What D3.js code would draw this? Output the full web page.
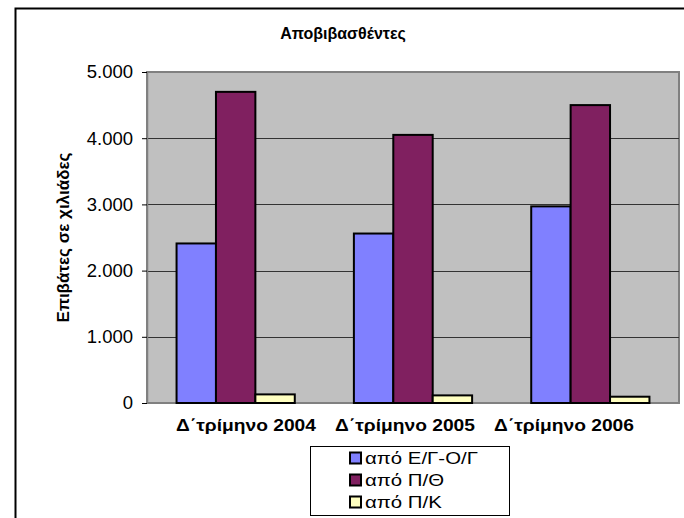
<!DOCTYPE html>
<html>
<head>
<meta charset="utf-8">
<script src="https://cdn.jsdelivr.net/npm/d3@7"></script>
<style>
body { margin: 0; background: #fff; }
svg { display: block; font-family: Arial, "Liberation Sans", sans-serif; }
</style>
</head>
<body>
<div id="chart"></div>
<script>
// data (thousands of passengers)
var quarters = ["Δ΄τρίμηνο 2004", "Δ΄τρίμηνο 2005", "Δ΄τρίμηνο 2006"];
var seriesNames = ["από Ε/Γ-Ο/Γ", "από Π/Θ", "από Π/Κ"];
var egog = [2410, 2560, 2970];
var pth = [4700, 4050, 4500];
var pk = [130, 115, 95];
var yTicks = [0, 1000, 2000, 3000, 4000, 5000];
var colors = ["#8080ff", "#802060", "#ffffc0"];

var W = 684, H = 518;
var margin = {top: 72, left: 147, right: 5, bottom: 115};
var width = W - margin.left - margin.right;
var height = H - margin.top - margin.bottom;

var svg = d3.select("#chart").append("svg").attr("width", W).attr("height", H);

// outer chart frame
svg.append("rect")
.attr("x", 15.5).attr("y", 8.5)
.attr("width", 700).attr("height", 540)
.attr("fill", "none").attr("stroke", "#000").attr("stroke-width", 2);

svg.append("text")
.attr("x", 343).attr("y", 39)
.attr("text-anchor", "middle")
.style("font-size", "16px").style("font-weight", "bold")
.text("Αποβιβασθέντες");

var g = svg.append("g").attr("transform", "translate(" + margin.left + "," + margin.top + ")");

var x0 = d3.scaleBand().domain(quarters).range([0, width]).paddingInner(0).paddingOuter(0);
// gap width 150% of a bar => 3 bars + 1.5 bar of gap per group
var x1 = d3.scaleBand().domain(seriesNames).range([x0.bandwidth() * 0.75 / 4.5, x0.bandwidth() - x0.bandwidth() * 0.75 / 4.5]).padding(0);
var y = d3.scaleLinear().domain([0, 5000]).range([height, 0]);
// category labels sit a bit tighter than the bar groups in the original
var xl = d3.scaleBand().domain(quarters).range([19.5, 496.5]);

g.append("rect")
.attr("width", width).attr("height", height)
.attr("fill", "#c0c0c0").attr("stroke", "#808080").attr("stroke-width", 2);

g.selectAll(".grid")
.data(yTicks.slice(1, -1))
.enter().append("line")
.attr("class", "grid")
.attr("x1", 0).attr("x2", width)
.attr("y1", function(d) { return Math.round(y(d)) + 0.5; })
.attr("y2", function(d) { return Math.round(y(d)) + 0.5; })
.attr("stroke", "#333").attr("stroke-width", 1);

var series = [egog, pth, pk];
var rows = [];
quarters.forEach(function(q, i) {
  seriesNames.forEach(function(s, j) {
    rows.push({q: q, s: s, v: series[j][i], c: colors[j]});
  });
});

g.selectAll(".bar")
.data(rows)
.enter().append("rect")
.attr("class", "bar")
.attr("x", function(d) { return x0(d.q) + x1(d.s); })
.attr("y", function(d) { return y(d.v); })
.attr("width", x1.bandwidth())
.attr("height", function(d) { return height - y(d.v); })
.attr("fill", function(d) { return d.c; })
.attr("stroke", "#000").attr("stroke-width", 2);

var yAxis = g.append("g")
.call(d3.axisLeft(y).tickValues(yTicks).tickSize(5).tickSizeOuter(0)
  .tickFormat(function(d) { return d === 0 ? "0" : d3.format(",")(d).replace(/,/g, "."); }));
yAxis.select(".domain").attr("stroke", "#808080").attr("stroke-width", 1.5);
yAxis.selectAll(".tick line").attr("stroke", "#000");
yAxis.selectAll("text").style("font-size", "18.5px").attr("fill", "#000").attr("x", -14);

var xAxis = g.append("g")
.attr("transform", "translate(0," + height + ")")
.call(d3.axisBottom(xl).tickSize(0).tickSizeOuter(0));
xAxis.select(".domain").remove();
xAxis.selectAll("text")
.style("font-size", "16px").style("font-weight", "bold")
.attr("fill", "#000")
.attr("y", 0).attr("dy", 28)
.attr("transform", "scale(1.2,1)");

svg.append("text")
.attr("transform", "translate(69," + (margin.top + height / 2) + ") rotate(-90)")
.attr("text-anchor", "middle")
.style("font-size", "17px").style("font-weight", "bold")
.text("Επιβάτες σε χιλιάδες");

// legend
var lg = svg.append("g").attr("transform", "translate(310,446)");
lg.append("rect")
.attr("x", 0.5).attr("y", 0.5).attr("width", 199).attr("height", 69)
.attr("fill", "#fff").attr("stroke", "#000").attr("stroke-width", 1);
var item = lg.selectAll(".item")
.data(seriesNames)
.enter().append("g")
.attr("class", "item")
.attr("transform", function(d, i) { return "translate(0," + (12 + i * 22) + ")"; });
item.append("rect")
.attr("x", 40).attr("y", -5.5).attr("width", 11).attr("height", 11)
.attr("fill", function(d, i) { return colors[i]; })
.attr("stroke", "#000").attr("stroke-width", 2);
item.append("text")
.attr("transform", "translate(55,0) scale(1.2,1)")
.attr("dy", "0.36em")
.style("font-size", "17px")
.text(function(d) { return d; });
</script>
</body>
</html>
